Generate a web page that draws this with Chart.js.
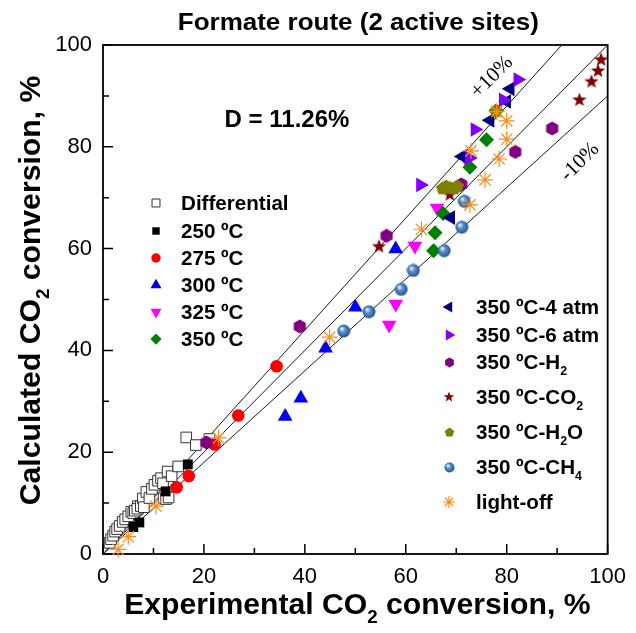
<!DOCTYPE html>
<html>
<head>
<meta charset="utf-8">
<script src="https://cdn.jsdelivr.net/npm/chart.js@4.4.1/dist/chart.umd.min.js"></script>
<style>
  html, body { margin: 0; padding: 0; background: #fff; }
  canvas { display: block; }
</style>
</head>
<body>
<canvas id="parity" width="636" height="633"></canvas>
<script>
// [experimental, calculated] CO2 conversion, %
const differential = [[1.3,2.2],[1.6,2.9],[2.0,3.6],[2.4,4.4],[2.8,4.9],[3.3,5.5],[3.9,6.3],[4.4,6.8],
  [5.0,7.4],[5.6,8.3],[6.0,8.0],[6.3,8.5],[6.9,9.4],[6.8,8.9],[7.5,9.4],[7.9,10.9],[8.1,9.2],[8.6,12.2],
  [9.2,11.0],[9.7,12.8],[10.2,13.6],[10.9,14.4],[11.5,14.9],[11.9,13.9],[12.0,10.9],[12.5,10.8],
  [13.0,11.1],[12.8,16.2],[13.6,15.3],[14.9,17.2],[16.5,22.9],[18.4,21.4],[21.1,22.6]];
const t250 = [[6.0,5.3],[7.2,6.2],[12.4,12.3],[16.8,17.6]];
const t275 = [[14.6,13.1],[17.0,15.3],[22.1,21.5],[26.8,27.2],[34.4,36.9]];
const t300 = [[36.1,27.0],[39.2,30.6],[44.1,40.4],[50.0,48.5],[58.0,59.9]];
const t325 = [[56.7,45.0],[58.0,49.1],[61.8,60.5],[66.2,68.0],[72.0,77.5]];
const t350 = [[65.5,59.6],[65.8,63.1],[67.4,66.9],[72.7,76.0],[76.0,81.4],[77.9,87.1]];
const atm4 = [[68.9,66.1],[71.2,78.1],[76.7,85.2],[80.0,88.9],[80.7,91.4]];
const atm6 = [[62.9,72.5],[72.6,77.8],[73.7,83.4],[79.3,89.2],[82.2,93.2]];
const feedH2 = [[20.5,21.9],[39.0,44.7],[56.2,62.5],[71.0,72.6],[81.7,79.0],[89.0,83.6]];
const feedCO2 = [[54.7,60.4],[68.7,70.6],[94.4,89.2],[96.8,92.8],[98.1,94.9],[98.7,97.1]];
const feedH2O = [[67.3,71.8],[68.0,72.2],[68.8,71.9],[69.6,71.8],[70.2,72.2],[77.9,87.0]];
const feedCH4 = [[47.7,43.8],[52.7,47.6],[59.1,52.0],[61.5,55.7],[67.6,59.6],[71.1,64.2],[71.6,69.3]];
const lightOff = [[3.0,0.9],[5.0,3.4],[10.5,9.4],[22.9,22.8],[44.9,42.6],[63.1,63.8],[72.7,68.6],
  [72.9,79.2],[75.7,73.5],[78.0,86.9],[78.5,77.6],[80.0,81.5],[80.0,85.1]];

// calculated = factor * experimental (+10 %, parity, -10 %)
const bandFactors = [1.1, 1.0, 0.9];
const tickLabels = [0, 20, 40, 60, 80, 100];

const FONT = "'Liberation Sans', Arial, sans-serif";

// little canvases for the marker shapes Chart.js does not have
function icon(size, paint) {
  const c = document.createElement('canvas');
  c.width = c.height = size;
  paint(c.getContext('2d'), size / 2);
  return c;
}
function poly(g, c, pts) {
  g.beginPath();
  pts.forEach((p, i) => i ? g.lineTo(c + p[0], c + p[1]) : g.moveTo(c + p[0], c + p[1]));
  g.closePath();
}
function ngon(n, r) {
  const pts = [];
  for (let i = 0; i < n; i++) {
    const a = -Math.PI / 2 + i * 2 * Math.PI / n;
    pts.push([r * Math.cos(a), r * Math.sin(a)]);
  }
  return pts;
}
function hexagon(size, color) {
  return icon(size, (g, c) => { poly(g, c, ngon(6, c - 0.5)); g.fillStyle = color; g.fill(); });
}
function pentagon(size, color) {
  return icon(size, (g, c) => { poly(g, c, ngon(5, c - 0.5)); g.fillStyle = color; g.fill(); });
}
function star(size, color) {
  return icon(size, (g, c) => {
    const pts = [];
    for (let i = 0; i < 10; i++) {
      const a = -Math.PI / 2 + i * Math.PI / 5, r = i % 2 ? (c - 0.5) * 0.42 : c - 0.5;
      pts.push([r * Math.cos(a), r * Math.sin(a)]);
    }
    poly(g, c, pts); g.fillStyle = color; g.fill();
  });
}
function sphere(size) {
  return icon(size, (g, c) => {
    const gr = g.createRadialGradient(c * 0.7, c * 0.65, 0.5, c, c, c);
    gr.addColorStop(0, '#eef4fb');
    gr.addColorStop(0.35, '#5d93d0');
    gr.addColorStop(1, '#1b4b8c');
    g.beginPath(); g.arc(c, c, c - 0.5, 0, 2 * Math.PI);
    g.fillStyle = gr; g.fill();
  });
}

const series = [
  { label: 'Differential', data: differential, style: 'rect', r: 7.5, bg: '#fff', bc: '#333', bw: 1 },
  { label: '250 ºC', data: t250, style: 'rect', r: 7, bg: '#000', bc: '#000', bw: 0 },
  { label: '275 ºC', data: t275, style: 'circle', r: 6.3, bg: '#ff0000', bc: '#ff0000', bw: 0 },
  { label: '300 ºC', data: t300, style: 'triangle', r: 8.5, bg: '#0000ff', bc: '#0000ff', bw: 0 },
  { label: '325 ºC', data: t325, style: 'triangle', rot: 180, r: 8.5, bg: '#ff00ff', bc: '#ff00ff', bw: 0 },
  { label: '350 ºC', data: t350, style: 'rectRot', r: 7.5, bg: '#008000', bc: '#008000', bw: 0 },
  { label: '350 ºC-4 atm', data: atm4, style: 'triangle', rot: 270, r: 8.5, bg: '#000080', bc: '#000080', bw: 0 },
  { label: '350 ºC-6 atm', data: atm6, style: 'triangle', rot: 90, r: 8.5, bg: '#8000ff', bc: '#8000ff', bw: 0 },
  { label: '350 ºC-H_2', data: feedH2, style: hexagon(15, '#800080'), legend: hexagon(11, '#800080') },
  { label: '350 ºC-CO_2', data: feedCO2, style: star(16, '#800000'), legend: star(12, '#800000') },
  { label: '350 ºC-H_2O', data: feedH2O, style: pentagon(15, '#808000'), legend: pentagon(11, '#808000') },
  { label: '350 ºC-CH_4', data: feedCH4, style: sphere(14), legend: sphere(11) },
  { label: 'light-off', data: lightOff, style: 'star', r: 8, bg: '#ff8c1a', bc: '#ff8c1a', bw: 1.2 }
];

const datasets = series.map((s, i) => ({
  label: s.label,
  data: s.data.map(p => ({ x: p[0], y: p[1] })),
  pointStyle: s.style,
  rotation: s.rot || 0,
  pointRadius: s.r || 7,
  backgroundColor: s.bg || '#000',
  borderColor: s.bc || '#000',
  borderWidth: s.bw || 0,
  clip: false,
  order: 50 - i
}));

bandFactors.forEach(f => {
  datasets.push({
    data: f >= 1 ? [{ x: 0, y: 0 }, { x: 100 / f, y: 100 }] : [{ x: 0, y: 0 }, { x: 100, y: 100 * f }],
    showLine: true,
    borderColor: '#1a1a1a',
    borderWidth: 1,
    pointRadius: 0,
    order: 100
  });
});

// text with one-character subscripts written as _2; sx widens the glyphs
function richText(ctx, text, x, y, size, weight, align, sx) {
  sx = sx || 1;
  const parts = text.split(/_(.)/);
  const big = weight + ' ' + size + 'px ' + FONT;
  const small = weight + ' ' + Math.round(size * 0.62) + 'px ' + FONT;
  let w = 0;
  parts.forEach((p, i) => { ctx.font = i % 2 ? small : big; w += ctx.measureText(p).width; });
  ctx.save();
  ctx.translate(x, y);
  ctx.scale(sx, 1);
  let cx = align === 'center' ? -w / 2 : 0;
  const base = size * 0.36;
  ctx.textAlign = 'left';
  ctx.textBaseline = 'alphabetic';
  parts.forEach((p, i) => {
    ctx.font = i % 2 ? small : big;
    ctx.fillText(p, cx, i % 2 ? base + size * 0.3 : base);
    cx += ctx.measureText(p).width;
  });
  ctx.restore();
}

const legendRows = [
  { x: 156, tx: 181, ys: [203, 231, 258, 285, 312, 339], from: 0 },
  { x: 449, tx: 476, ys: [307, 335, 362, 397, 432, 467, 502], from: 6 }
];

const decorations = {
  id: 'decorations',
  beforeDatasetsDraw(chart) {
    const { ctx, chartArea: a, scales: { x, y } } = chart;
    ctx.save();
    ctx.strokeStyle = '#000';
    ctx.lineWidth = 1.8;
    ctx.strokeRect(a.left, a.top, a.right - a.left, a.bottom - a.top);
    ctx.lineWidth = 1.5;
    ctx.beginPath();
    x.ticks.forEach(t => {
      const px = x.getPixelForValue(t.value), len = t.value % 20 === 0 ? 10 : 6;
      ctx.moveTo(px, a.bottom); ctx.lineTo(px, a.bottom - len);
    });
    y.ticks.forEach(t => {
      const py = y.getPixelForValue(t.value), len = t.value % 20 === 0 ? 10 : 6;
      ctx.moveTo(a.left, py); ctx.lineTo(a.left + len, py);
    });
    ctx.stroke();
    ctx.restore();
  },
  afterDraw(chart) {
    const { ctx, chartArea: a } = chart;
    const midX = (a.left + a.right) / 2, midY = (a.top + a.bottom) / 2;
    ctx.save();
    ctx.fillStyle = '#000';
    richText(ctx, 'Formate route (2 active sites)', midX + 3, 22, 23, 'bold', 'center', 1.13);
    richText(ctx, 'Experimental CO_2 conversion, %', midX + 2, 604, 29, 'bold', 'center', 1.04);
    ctx.save();
    ctx.translate(30, midY - 9);
    ctx.rotate(-Math.PI / 2);
    richText(ctx, 'Calculated CO_2 conversion, %', 0, 0, 29, 'bold', 'center', 1.04);
    ctx.restore();
    richText(ctx, 'D = 11.26%', 287, 118, 24, 'bold', 'center');

    // band labels
    ctx.font = "21px 'Liberation Serif', 'Times New Roman', serif";
    ctx.textAlign = 'center';
    ctx.textBaseline = 'middle';
    [['+10%', 492, 77], ['-10%', 580, 162]].forEach(([t, px, py]) => {
      ctx.save();
      ctx.translate(px, py);
      ctx.rotate(-45 * Math.PI / 180);
      ctx.fillText(t, 0, 0);
      ctx.restore();
    });

    // legends
    legendRows.forEach(col => {
      col.ys.forEach((ly, k) => {
        const s = series[col.from + k];
        if (typeof s.style === 'string') {
          ctx.fillStyle = s.bg;
          ctx.strokeStyle = s.bc;
          ctx.lineWidth = s.bw || 1;
          Chart.helpers.drawPoint(ctx, {
            pointStyle: s.style, rotation: s.rot || 0,
            radius: s.r * 0.75, borderWidth: s.bw
          }, col.x, ly);
        } else {
          ctx.drawImage(s.legend, Math.round(col.x - s.legend.width / 2), Math.round(ly - s.legend.height / 2));
        }
        ctx.fillStyle = '#000';
        richText(ctx, s.label, col.tx, ly, 20, 'bold', 'left', 1.03);
      });
    });
    ctx.restore();
  }
};

const tickFont = { family: FONT, size: 22 };

new Chart(document.getElementById('parity'), {
  type: 'scatter',
  data: { datasets: datasets },
  options: {
    responsive: false,
    animation: false,
    events: [],
    layout: { padding: { top: 45, right: 24, left: 0, bottom: 0 } },
    plugins: { legend: { display: false }, tooltip: { enabled: false }, title: { display: false } },
    scales: {
      x: {
        min: 0, max: 100,
        grid: { display: false, drawTicks: false },
        border: { display: false },
        ticks: {
          stepSize: 10, autoSkip: false, maxRotation: 0, padding: 10,
          color: '#000', font: tickFont,
          callback: v => tickLabels.includes(v) ? v : ''
        },
        afterFit: s => { s.height = 79; }
      },
      y: {
        min: 0, max: 100,
        grid: { display: false, drawTicks: false },
        border: { display: false },
        ticks: {
          stepSize: 10, autoSkip: false, padding: 11,
          color: '#000', font: tickFont,
          callback: v => tickLabels.includes(v) ? v : ''
        },
        afterFit: s => { s.width = 103; }
      }
    }
  },
  plugins: [decorations]
});
</script>
</body>
</html>
